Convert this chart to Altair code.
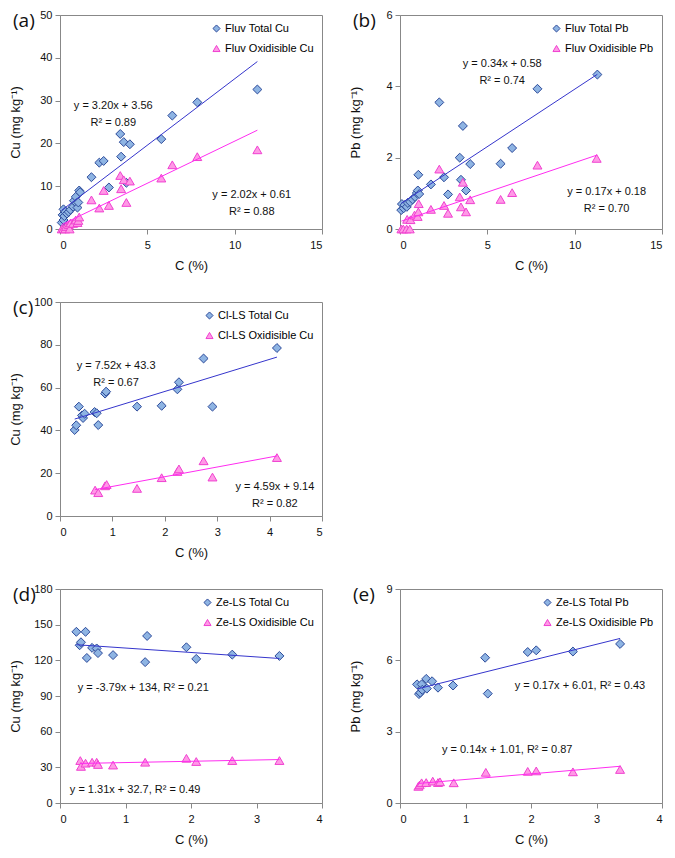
import altair as alt
import pandas as pd

FONT = "Liberation Sans"

# ---------------- (a) Fluv Cu ----------------
a_names = ["Fluv Total Cu", "Fluv Oxidisible Cu"]
a_total_x = [0.1, 0.15, 0.2, 0.2, 0.25, 0.3, 0.4, 0.5, 0.6, 0.75, 0.8, 0.9, 0.95, 1.0, 1.05, 1.1, 1.15,
             1.8, 2.25, 2.5, 2.8, 3.45, 3.5, 3.65, 3.8, 4.0, 5.8, 6.43, 7.86, 11.3]
a_total_y = [1.5, 3.3, 2.1, 4.6, 3.0, 4.0, 3.6, 4.0, 4.5, 5.2, 6.6, 7.5, 6.0, 5.0, 6.2, 9.0, 8.6,
             12.1, 15.5, 15.9, 9.7, 22.2, 16.9, 20.3, 10.8, 19.8, 21.0, 26.5, 29.6, 32.6]
a_oxid_x = [0.1, 0.2, 0.3, 0.35, 0.5, 0.55, 0.6, 0.75, 0.9, 1.0, 1.05, 1.1, 1.8, 2.25, 2.5, 2.8,
            3.45, 3.5, 3.65, 3.8, 4.0, 5.8, 6.43, 7.86, 11.3]
a_oxid_y = [0.0, 0.1, 0.0, 0.6, 1.0, 0.0, 1.4, 1.3, 2.1, 1.5, 2.0, 2.8, 6.8, 4.9, 9.0, 5.5,
            12.5, 9.4, 11.5, 6.2, 11.2, 11.9, 15.0, 16.9, 18.5]

# ---------------- (b) Fluv Pb ----------------
b_names = ["Fluv Total Pb", "Fluv Oxidisible Pb"]
b_total_x = [0.07, 0.11, 0.21, 0.26, 0.39, 0.45, 0.58, 0.72, 0.86, 0.96, 1.02, 1.05, 1.1, 1.77, 2.25,
             2.52, 2.75, 3.42, 3.49, 3.6, 3.78, 4.02, 5.76, 6.42, 7.87, 11.3]
b_total_y = [0.53, 0.70, 0.58, 0.67, 0.62, 0.73, 0.76, 0.83, 0.90, 1.01, 1.08, 1.52, 0.98, 1.25, 3.55,
             1.45, 0.97, 2.00, 1.38, 2.89, 1.08, 1.82, 1.83, 2.27, 3.93, 4.33]
b_oxid_x = [0.08, 0.19, 0.38, 0.41, 0.56, 0.6, 0.83, 1.01, 1.05, 1.07, 1.77, 2.25, 2.52, 2.75, 3.42,
            3.49, 3.6, 3.78, 4.02, 5.76, 6.42, 7.87, 11.26]
b_oxid_y = [0.0, 0.0, 0.0, 0.27, 0.0, 0.26, 0.39, 0.35, 0.48, 0.71, 0.55, 1.68, 0.66, 0.44, 0.90,
            0.62, 1.31, 0.48, 0.82, 0.83, 1.02, 1.79, 1.98]

# ---------------- (c) Cl-LS Cu ----------------
c_names = ["Cl-LS Total Cu", "Cl-LS Oxidisible Cu"]
c_total_x = [0.28, 0.31, 0.36, 0.42, 0.44, 0.47, 0.66, 0.7, 0.73, 0.86, 0.88, 1.47, 1.94, 2.24, 2.27,
             2.74, 2.91, 4.14]
c_total_y = [40.2, 42.4, 51.1, 47.0, 45.8, 47.8, 48.6, 48.0, 42.5, 57.2, 58.1, 51.1, 51.5, 59.2, 62.5,
             73.6, 51.1, 78.5]
c_oxid_x = [0.67, 0.73, 0.86, 0.89, 1.47, 1.94, 2.24, 2.27, 2.74, 2.91, 4.14]
c_oxid_y = [12.1, 10.9, 14.1, 14.7, 12.9, 17.9, 20.8, 22.0, 25.8, 18.2, 27.3]

# ---------------- (d) Ze-LS Cu ----------------
d_names = ["Ze-LS Total Cu", "Ze-LS Oxidisible Cu"]
d_total_x = [0.25, 0.30, 0.32, 0.39, 0.41, 0.49, 0.56, 0.58, 0.81, 1.30, 1.33, 1.93, 2.08, 2.63, 3.35]
d_total_y = [144.0, 132.7, 135.2, 144.0, 122.0, 130.5, 130.0, 126.1, 124.4, 118.5, 140.5, 131.0,
             121.2, 124.8, 123.7]
d_oxid_x = [0.31, 0.32, 0.39, 0.49, 0.56, 0.58, 0.81, 1.30, 1.93, 2.08, 2.63, 3.35]
d_oxid_y = [35.7, 30.8, 33.5, 34.3, 34.3, 32.4, 31.9, 34.3, 37.6, 34.9, 35.7, 35.7]

# ---------------- (e) Ze-LS Pb ----------------
e_names = ["Ze-LS Total Pb", "Ze-LS Oxidisible Pb"]
e_total_x = [0.26, 0.29, 0.31, 0.33, 0.34, 0.40, 0.41, 0.49, 0.58, 0.81, 1.30, 1.34, 1.95, 2.08, 2.64, 3.36]
e_total_y = [4.99, 4.58, 4.64, 4.99, 4.76, 5.22, 4.81, 5.12, 4.85, 4.94, 6.11, 4.60, 6.35, 6.42, 6.37, 6.69]
e_oxid_x = [0.28, 0.30, 0.33, 0.40, 0.50, 0.58, 0.61, 0.82, 1.31, 1.95, 2.08, 2.64, 3.36]
e_oxid_y = [0.70, 0.76, 0.85, 0.86, 0.92, 0.86, 0.89, 0.85, 1.29, 1.33, 1.35, 1.31, 1.41]

W, H = 262, 214


def make_df(names, tx, ty, ox, oy):
    rows = [{"series": names[0], "x": x, "y": y} for x, y in zip(tx, ty)]
    rows += [{"series": names[1], "x": x, "y": y} for x, y in zip(ox, oy)]
    return pd.DataFrame(rows)


def panel(letter, df, names, xmax, xticks, ymax, yticks, ytitle, eqs):
    xs = alt.Scale(domain=[0, xmax], nice=False)
    ys = alt.Scale(domain=[0, ymax], nice=False)
    leg = alt.Legend(title=None, orient="top-right", offset=8, symbolSize=50, labelFontSize=11,
                     labelFont=FONT, rowPadding=7, labelOffset=3, symbolStrokeWidth=1, padding=0)
    fill_s = alt.Scale(domain=names, range=["#8EB4E3", "#FF99E6"])
    stroke_s = alt.Scale(domain=names, range=["#2C4A9A", "#F040D0"])
    shape_s = alt.Scale(domain=names, range=["diamond", "triangle-up"])
    base = alt.Chart(df)
    pts = base.mark_point(filled=True, size=80, strokeWidth=1, opacity=1).encode(
        x=alt.X("x:Q", scale=xs, axis=alt.Axis(values=xticks, tickCount=20, title="C (%)",
                                               format="d", labelOverlap=False)),
        y=alt.Y("y:Q", scale=ys, axis=alt.Axis(values=yticks, tickCount=20, title=ytitle,
                                               titleX=-38, format="d", labelOverlap=False)),
        fill=alt.Fill("series:N", scale=fill_s, legend=leg),
        stroke=alt.Stroke("series:N", scale=stroke_s, legend=leg),
        shape=alt.Shape("series:N", scale=shape_s, legend=leg),
    )
    lines = base.transform_regression("x", "y", groupby=["series"]).mark_line(strokeWidth=1).encode(
        x="x:Q", y="y:Q",
        color=alt.Color("series:N", scale=alt.Scale(domain=names, range=["#3535CC", "#FF2CF0"]),
                        legend=None),
    )
    layers = [pts, lines]
    for (tx, ty, txt, align) in eqs:
        layers.append(
            alt.Chart(pd.DataFrame({"t": [txt]})).mark_text(
                font=FONT, fontSize=11, align=align, baseline="middle",
                lineBreak="\n", lineHeight=17, color="#111").encode(
                x=alt.datum(tx), y=alt.datum(ty), text="t:N")
        )
    lab = alt.Chart(pd.DataFrame({"t": [letter]})).mark_text(
        font="Open Sans", fontSize=19, align="left", baseline="middle", color="#111").encode(
        x=alt.value(-47), y=alt.value(6), text="t:N")
    layers.append(lab)
    return alt.layer(*layers).properties(width=W, height=H)


pa = panel("(a)", make_df(a_names, a_total_x, a_total_y, a_oxid_x, a_oxid_y), a_names,
           15, [0, 5, 10, 15], 50, [0, 10, 20, 30, 40, 50], "Cu (mg kg⁻¹)",
           [(3.05, 28.8, "y = 3.20x + 3.56\nR² = 0.89", "center"),
            (10.98, 8.0, "y = 2.02x + 0.61\nR² = 0.88", "center")])
pb = panel("(b)", make_df(b_names, b_total_x, b_total_y, b_oxid_x, b_oxid_y), b_names,
           15, [0, 5, 10, 15], 6, [0, 2, 4, 6], "Pb (mg kg⁻¹)",
           [(5.85, 4.62, "y = 0.34x + 0.58\nR² = 0.74", "center"),
            (11.83, 1.05, "y = 0.17x + 0.18\nR² = 0.70", "center")])
pc = panel("(c)", make_df(c_names, c_total_x, c_total_y, c_oxid_x, c_oxid_y), c_names,
           5, [0, 1, 2, 3, 4, 5], 100, [0, 20, 40, 60, 80, 100], "Cu (mg kg⁻¹)",
           [(1.07, 70.0, "y = 7.52x + 43.3\nR² = 0.67", "center"),
            (4.10, 13.7, "y = 4.59x + 9.14\nR² = 0.82", "center")])
pd_ = panel("(d)", make_df(d_names, d_total_x, d_total_y, d_oxid_x, d_oxid_y), d_names,
            4, [0, 1, 2, 3, 4], 180, [0, 30, 60, 90, 120, 150, 180], "Cu (mg kg⁻¹)",
            [(0.27, 96.6, "y = -3.79x + 134, R² = 0.21", "left"),
             (0.15, 11.3, "y = 1.31x + 32.7, R² = 0.49", "left")])
pe = panel("(e)", make_df(e_names, e_total_x, e_total_y, e_oxid_x, e_oxid_y), e_names,
           4, [0, 1, 2, 3, 4], 9, [0, 3, 6, 9], "Pb (mg kg⁻¹)",
           [(1.75, 4.94, "y = 0.17x + 6.01, R² = 0.43", "left"),
            (0.64, 2.22, "y = 0.14x + 1.01, R² = 0.87", "left")])

blank = alt.Chart(pd.DataFrame({"v": [0]})).mark_point(opacity=0).encode(
    x=alt.X("v:Q", axis=None), y=alt.Y("v:Q", axis=None)
).properties(width=W, height=H, view=alt.ViewBackground(stroke="transparent"))

RES = dict(x="independent", y="independent", fill="independent", stroke="independent",
           shape="independent", color="independent")

chart = alt.concat(pa, pb, pc, blank, pd_, pe, columns=2, bounds="flush",
                   spacing={"row": 73, "column": 78}).resolve_scale(**RES).properties(
    padding=0
).configure_view(stroke="#888888", strokeWidth=1).configure_axis(
    grid=False, domainColor="#888888", tickColor="#888888", tickSize=5, labelPadding=3,
    labelFont=FONT, labelFontSize=11, labelColor="#111111", titleFont=FONT, titleFontSize=13,
    titleFontWeight="normal", titleColor="#111111"
).configure_axisX(labelPadding=5, titlePadding=9)

chart.save("out.html", embed_options={"renderer": "svg", "actions": False})
